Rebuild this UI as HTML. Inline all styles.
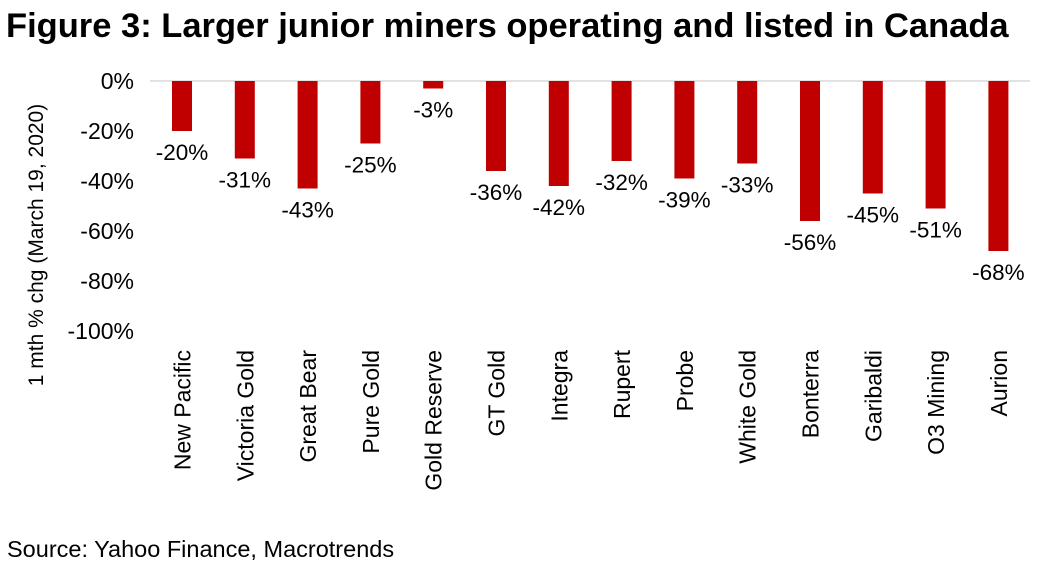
<!DOCTYPE html><html><head><style>body{margin:0;background:#fff;width:1041px;height:577px;overflow:hidden}</style></head><body>
<svg width="1041" height="577" xmlns="http://www.w3.org/2000/svg" font-family="Liberation Sans, Arial, sans-serif">
<text x="6" y="37" font-size="34.5" font-weight="bold">Figure 3: Larger junior miners operating and listed in Canada</text>
<line x1="150" y1="81" x2="1030" y2="81" stroke="#d9d9d9" stroke-width="1.5"/>
<g font-size="23" text-anchor="end">
<text x="134" y="89">0%</text><text x="134" y="139">-20%</text><text x="134" y="189">-40%</text><text x="134" y="239">-60%</text><text x="134" y="289">-80%</text><text x="134" y="339">-100%</text>
</g>
<text transform="translate(43,245) rotate(-90)" font-size="21" text-anchor="middle">1 mth % chg (March 19, 2020)</text>
<g fill="#c00000">
<rect x="172" y="81" width="20" height="50"/>
<rect x="234.8" y="81" width="20" height="77.5"/>
<rect x="297.6" y="81" width="20" height="107.5"/>
<rect x="360.4" y="81" width="20" height="62.5"/>
<rect x="423.2" y="81" width="20" height="7.5"/>
<rect x="486" y="81" width="20" height="90"/>
<rect x="548.8" y="81" width="20" height="105"/>
<rect x="611.6" y="81" width="20" height="80"/>
<rect x="674.4" y="81" width="20" height="97.5"/>
<rect x="737.2" y="81" width="20" height="82.5"/>
<rect x="800" y="81" width="20" height="140"/>
<rect x="862.8" y="81" width="20" height="112.5"/>
<rect x="925.6" y="81" width="20" height="127.5"/>
<rect x="988.4" y="81" width="20" height="170"/>
</g>
<g font-size="22.5" text-anchor="middle">
<text x="182" y="160">-20%</text>
<text x="244.8" y="187.5">-31%</text>
<text x="307.6" y="217.5">-43%</text>
<text x="370.4" y="172.5">-25%</text>
<text x="433.2" y="117.5">-3%</text>
<text x="496" y="200">-36%</text>
<text x="558.8" y="215">-42%</text>
<text x="621.6" y="190">-32%</text>
<text x="684.4" y="207.5">-39%</text>
<text x="747.2" y="192.5">-33%</text>
<text x="810" y="250">-56%</text>
<text x="872.8" y="222.5">-45%</text>
<text x="935.6" y="237.5">-51%</text>
<text x="998.4" y="280">-68%</text>
</g>
<g font-size="23" text-anchor="end">
<text transform="translate(190.5,350) rotate(-90)">New Pacific</text>
<text transform="translate(253.3,350) rotate(-90)">Victoria Gold</text>
<text transform="translate(316.1,350) rotate(-90)">Great Bear</text>
<text transform="translate(378.9,350) rotate(-90)">Pure Gold</text>
<text transform="translate(441.7,350) rotate(-90)">Gold Reserve</text>
<text transform="translate(504.5,350) rotate(-90)">GT Gold</text>
<text transform="translate(567.3,350) rotate(-90)">Integra</text>
<text transform="translate(630.1,350) rotate(-90)">Rupert</text>
<text transform="translate(692.9,350) rotate(-90)">Probe</text>
<text transform="translate(755.7,350) rotate(-90)">White Gold</text>
<text transform="translate(818.5,350) rotate(-90)">Bonterra</text>
<text transform="translate(881.3,350) rotate(-90)">Garibaldi</text>
<text transform="translate(944.1,350) rotate(-90)">O3 Mining</text>
<text transform="translate(1006.9,350) rotate(-90)">Aurion</text>
</g>
<text x="7" y="557" font-size="23.5">Source: Yahoo Finance, Macrotrends</text>
</svg></body></html>
